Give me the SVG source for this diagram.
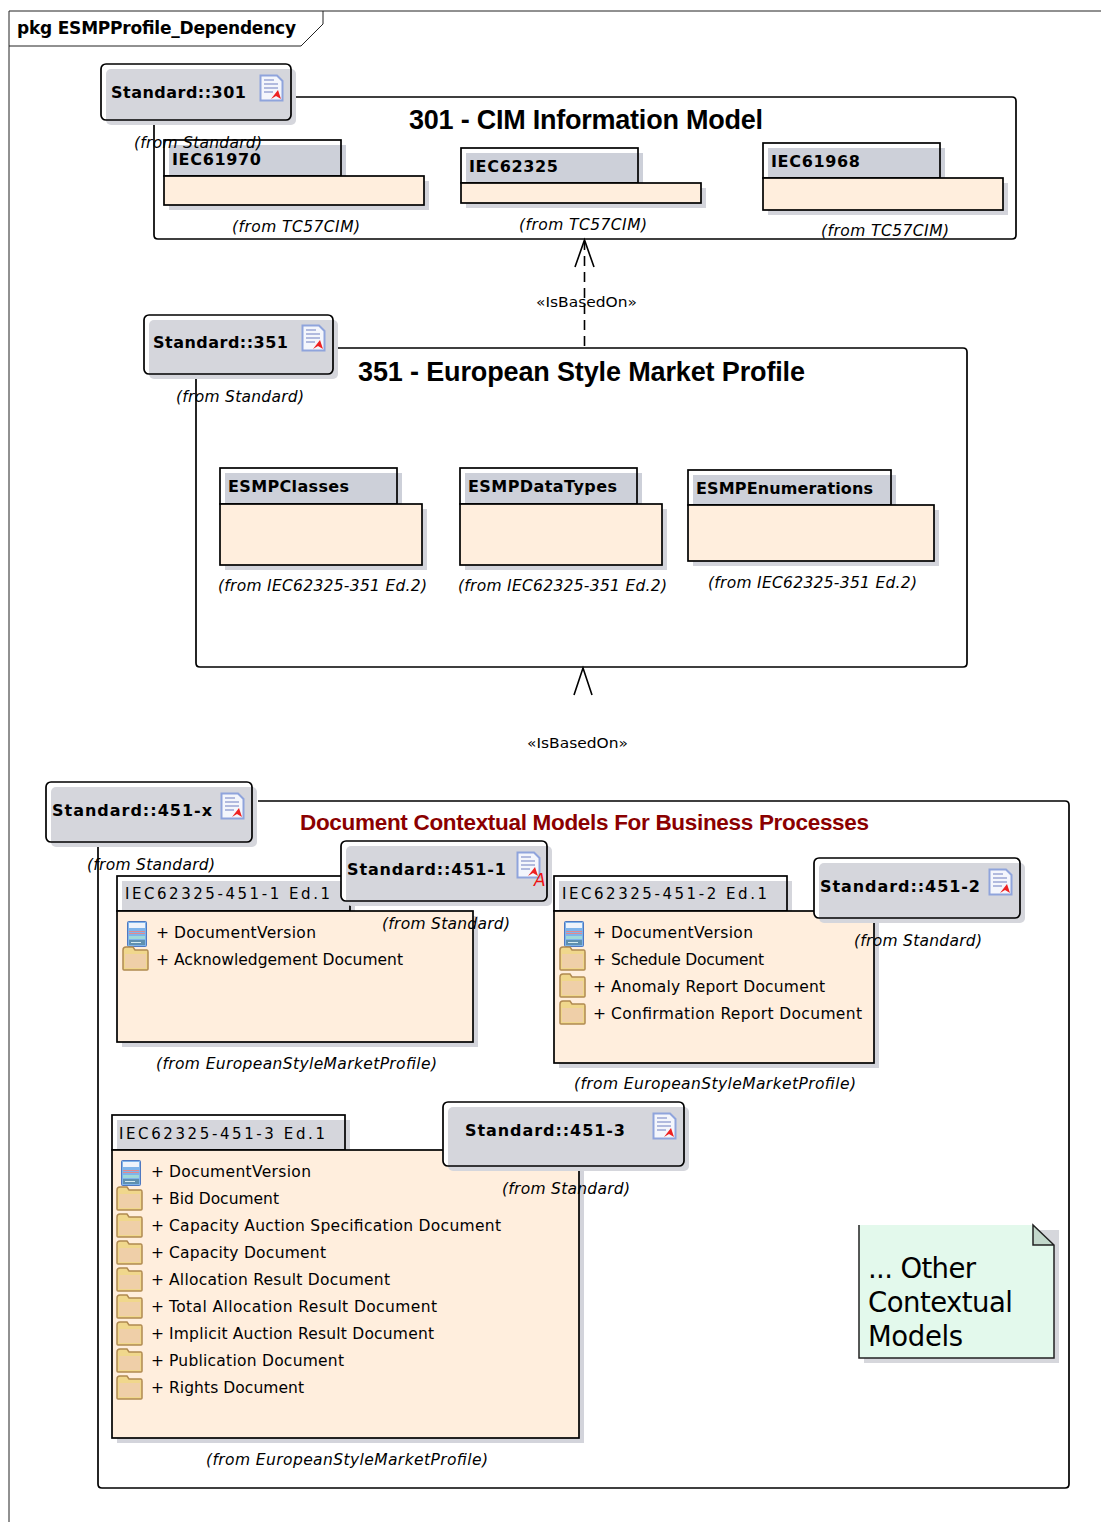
<svg xmlns="http://www.w3.org/2000/svg" xmlns:xlink="http://www.w3.org/1999/xlink" width="1101" height="1522" viewBox="0 0 1101 1522">
<style>
text{font-family:"DejaVu Sans","Liberation Sans",sans-serif;fill:#000}
.ln{fill:none;stroke:#000;stroke-width:1.600}
.cont{fill:none;stroke:#000;stroke-width:1.700}
.tabg{fill:#cdd0d9}
.shadow{fill:#d3d4db}
.body{fill:#ffeedd;stroke:#000;stroke-width:1.700}
.tab{fill:none;stroke:#000;stroke-width:1.700}
.st{fill:#d5d6dc}
.nb{fill:#fff;stroke:none}
.nbr{fill:none;stroke:#000;stroke-width:1.700}
.name{font-size:16px;font-weight:bold}
.pk{font-size:16px;font-weight:bold}
.pn{font-size:15px}
.from{font-size:15.500px;font-style:italic}
.item{font-size:15.500px}
.title{font-family:"Liberation Sans",Arial,sans-serif;font-weight:bold;font-size:27px}
.lab{font-size:14.500px}
.note{font-size:27.500px}
</style>
<defs>
<symbol id="doc" viewBox="0 0 25 28" overflow="visible">
<path d="M1.500 1.500H18L23.500 7V26.500H1.500Z" fill="#f4f6fc" stroke="#8fa4dc" stroke-width="2"/>
<path d="M5 6H15M5 10H19M5 14H19M5 18H14" stroke="#9aa6d4" stroke-width="1.500"/>
<path d="M12 25L19 16L22 25L17 22Z" fill="#ee2222"/>
</symbol>
<symbol id="cls" viewBox="0 0 20 26" overflow="visible">
<rect x="0.500" y="0.500" width="19" height="25" rx="1" fill="#7fb4ea" stroke="#4f78c0"/>
<rect x="2" y="2" width="16" height="5" fill="#eef3fb"/>
<path d="M2 10.500H18M2 12.500H18" stroke="#e08a90" stroke-width="1"/>
<rect x="2" y="15" width="16" height="3" fill="#9fd8d8"/>
<rect x="2" y="19" width="16" height="5" fill="#5f90b0"/>
<path d="M4 21.500H14" stroke="#d5ecf0"/>
</symbol>
<symbol id="fld" viewBox="0 0 27 25" overflow="visible">
<path d="M1 4Q1 1 4 1H11L13 4H25Q26 4 26 6V23Q26 24 25 24H2Q1 24 1 23Z" fill="#f0d78c" stroke="#b08a50" stroke-width="1.500"/>
<rect x="3" y="8" width="21" height="14" fill="#efcfa8"/>
</symbol>
</defs>
<rect width="1101" height="1522" fill="#fff"/>
<g id="frame"><path class="ln" style="stroke:#222;stroke-width:1" d="M1101 11H9V1522M9 46H301L323 24V11"/>
<text x="17" y="34" style="font-size:17px;font-weight:bold" textLength="279">pkg ESMPProfile_Dependency</text></g>

<g id="connectors">
<path class="ln" stroke-dasharray="10 6" d="M584.500 346V242"/>
<path class="ln" d="M575 267L584.500 240L594 267"/>
<path class="ln" d="M574 695L583 668L592 695"/>
</g>
<text class="lab" x="536" y="307" textLength="101" lengthAdjust="spacingAndGlyphs">«IsBasedOn»</text>
<text class="lab" x="527" y="748" textLength="101" lengthAdjust="spacingAndGlyphs">«IsBasedOn»</text>

<g id="c301"><path class="cont" d="M154 125V235Q154 239 158 239H1012Q1016 239 1016 235V101Q1016 97 1012 97H296"/>
<text class="title" x="409" y="129" textLength="354">301 - CIM Information Model</text></g>

<g id="IEC61970"><rect class="tabg" x="169" y="145" width="177" height="31"/><rect class="shadow" x="169" y="181" width="260" height="29"/><rect class="tab" x="164" y="140" width="177" height="36"/><rect class="body" x="164" y="176" width="260" height="29"/><text class="pk" x="172" y="165" textLength="89">IEC61970</text><text class="from" x="232" y="232" textLength="128">(from TC57CIM)</text></g>
<g id="IEC62325"><rect class="tabg" x="466" y="153" width="177" height="30"/><rect class="shadow" x="466" y="188" width="240" height="20"/><rect class="tab" x="461" y="148" width="177" height="35"/><rect class="body" x="461" y="183" width="240" height="20"/><text class="pk" x="469" y="172" textLength="89">IEC62325</text><text class="from" x="519" y="230" textLength="128">(from TC57CIM)</text></g>
<g id="IEC61968"><rect class="tabg" x="768" y="148" width="177" height="30"/><rect class="shadow" x="768" y="183" width="240" height="32"/><rect class="tab" x="763" y="143" width="177" height="35"/><rect class="body" x="763" y="178" width="240" height="32"/><text class="pk" x="771" y="167" textLength="89">IEC61968</text><text class="from" x="821" y="236" textLength="128">(from TC57CIM)</text></g>

<g id="Standard301"><rect class="st" x="106" y="69" width="190" height="56" rx="5"/><rect class="nbr" x="101" y="64" width="190" height="56" rx="5"/><text class="name" x="111" y="98" textLength="135">Standard::301</text><use xlink:href="#doc" href="#doc" x="259" y="74" width="25" height="28"/><text class="from" x="134" y="148" textLength="128">(from Standard)</text></g>

<g id="c351"><path class="cont" d="M196 379V663Q196 667 200 667H963Q967 667 967 663V352Q967 348 963 348H338"/>
<text class="title" x="358" y="381" textLength="447">351 - European Style Market Profile</text></g>

<g id="ESMPClasses"><rect class="tabg" x="225" y="473" width="177" height="31"/><rect class="shadow" x="225" y="509" width="202" height="61"/><rect class="tab" x="220" y="468" width="177" height="36"/><rect class="body" x="220" y="504" width="202" height="61"/><text class="pk" x="228" y="492" textLength="121">ESMPClasses</text><text class="from" x="218" y="591" textLength="209">(from IEC62325-351 Ed.2)</text></g>
<g id="ESMPDataTypes"><rect class="tabg" x="465" y="473" width="177" height="31"/><rect class="shadow" x="465" y="509" width="202" height="61"/><rect class="tab" x="460" y="468" width="177" height="36"/><rect class="body" x="460" y="504" width="202" height="61"/><text class="pk" x="468" y="492" textLength="149">ESMPDataTypes</text><text class="from" x="458" y="591" textLength="209">(from IEC62325-351 Ed.2)</text></g>
<g id="ESMPEnumerations"><rect class="tabg" x="693" y="475" width="203" height="30"/><rect class="shadow" x="693" y="510" width="246" height="56"/><rect class="tab" x="688" y="470" width="203" height="35"/><rect class="body" x="688" y="505" width="246" height="56"/><text class="pk" x="696" y="494" textLength="177">ESMPEnumerations</text><text class="from" x="708" y="588" textLength="209">(from IEC62325-351 Ed.2)</text></g>

<g id="Standard351"><rect class="st" x="149" y="320" width="189" height="59" rx="5"/><rect class="nbr" x="144" y="315" width="189" height="59" rx="5"/><text class="name" x="153" y="348" textLength="135">Standard::351</text><use xlink:href="#doc" href="#doc" x="301" y="324" width="25" height="28"/><text class="from" x="176" y="402" textLength="128">(from Standard)</text></g>

<g id="c451"><path class="cont" d="M98 847V1484Q98 1488 102 1488H1065Q1069 1488 1069 1484V805Q1069 801 1065 801H258"/>
<text class="title" style="fill:#8b0000;font-size:22.500px" x="300" y="830" textLength="569">Document Contextual Models For Business Processes</text></g>

<g id="Standard451x"><rect class="st" x="51" y="787" width="206" height="60" rx="5"/><rect class="nbr" x="46" y="782" width="206" height="60" rx="5"/><text class="name" x="52" y="816" textLength="160">Standard::451-x</text><use xlink:href="#doc" href="#doc" x="220" y="792" width="25" height="28"/><text class="from" x="87" y="870" textLength="128">(from Standard)</text></g>

<g id="IEC62325-451-1"><rect class="st" x="122" y="881" width="233" height="30"/><rect class="shadow" x="122" y="916" width="356" height="131"/><rect class="tab" x="117" y="876" width="233" height="35"/><rect class="body" x="117" y="911" width="356" height="131"/><text class="pn" x="125" y="899" textLength="205">IEC62325-451-1 Ed.1</text>
<use xlink:href="#cls" href="#cls" x="127" y="921" width="20" height="26"/><use xlink:href="#fld" href="#fld" x="122" y="946" width="27" height="25"/>
<text class="item" x="156" y="938">+</text><text class="item" x="174" y="938" textLength="142">DocumentVersion</text>
<text class="item" x="156" y="965">+</text><text class="item" x="174" y="965" textLength="229">Acknowledgement Document</text>
<text class="from" x="156" y="1069" textLength="281">(from EuropeanStyleMarketProfile)</text></g>

<g id="Standard451-1"><rect class="nb" x="341" y="841" width="206" height="60" rx="5"/><rect class="st" x="346" y="846" width="206" height="60" rx="5"/><rect class="nbr" x="341" y="841" width="206" height="60" rx="5"/><text class="name" x="347" y="875" textLength="159">Standard::451-1</text><use xlink:href="#doc" href="#doc" x="516" y="851" width="25" height="28"/><text x="534" y="886" style="font-size:17px;font-style:italic;fill:#ee1111">A</text><text class="from" x="382" y="929" textLength="128">(from Standard)</text></g>

<g id="IEC62325-451-2"><rect class="st" x="559" y="881" width="233" height="30"/><rect class="shadow" x="559" y="916" width="320" height="152"/><rect class="tab" x="554" y="876" width="233" height="35"/><rect class="body" x="554" y="911" width="320" height="152"/><text class="pn" x="562" y="899" textLength="205">IEC62325-451-2 Ed.1</text>
<use xlink:href="#cls" href="#cls" x="564" y="921" width="20" height="26"/><use xlink:href="#fld" href="#fld" x="559" y="946" width="27" height="25"/><use xlink:href="#fld" href="#fld" x="559" y="973" width="27" height="25"/><use xlink:href="#fld" href="#fld" x="559" y="1000" width="27" height="25"/>
<text class="item" x="593" y="938">+</text><text class="item" x="611" y="938" textLength="142">DocumentVersion</text>
<text class="item" x="593" y="965">+</text><text class="item" x="611" y="965" textLength="153">Schedule Document</text>
<text class="item" x="593" y="992">+</text><text class="item" x="611" y="992" textLength="214">Anomaly Report Document</text>
<text class="item" x="593" y="1019">+</text><text class="item" x="611" y="1019" textLength="251">Confirmation Report Document</text>
<text class="from" x="574" y="1089" textLength="282">(from EuropeanStyleMarketProfile)</text></g>

<g id="Standard451-2"><rect class="nb" x="814" y="858" width="206" height="60" rx="5"/><rect class="st" x="819" y="863" width="206" height="60" rx="5"/><rect class="nbr" x="814" y="858" width="206" height="60" rx="5"/><text class="name" x="820" y="892" textLength="160">Standard::451-2</text><use xlink:href="#doc" href="#doc" x="988" y="868" width="25" height="28"/><text class="from" x="854" y="946" textLength="128">(from Standard)</text></g>

<g id="IEC62325-451-3"><rect class="st" x="117" y="1120" width="233" height="30"/><rect class="shadow" x="117" y="1155" width="467" height="288"/><rect class="tab" x="112" y="1115" width="233" height="35"/><rect class="body" x="112" y="1150" width="467" height="288"/><text class="pn" x="119" y="1139" textLength="206">IEC62325-451-3 Ed.1</text>
<use xlink:href="#cls" href="#cls" x="121" y="1160" width="20" height="26"/>
<use xlink:href="#fld" href="#fld" x="116" y="1186" width="27" height="25"/><use xlink:href="#fld" href="#fld" x="116" y="1213" width="27" height="25"/><use xlink:href="#fld" href="#fld" x="116" y="1240" width="27" height="25"/><use xlink:href="#fld" href="#fld" x="116" y="1267" width="27" height="25"/><use xlink:href="#fld" href="#fld" x="116" y="1294" width="27" height="25"/><use xlink:href="#fld" href="#fld" x="116" y="1321" width="27" height="25"/><use xlink:href="#fld" href="#fld" x="116" y="1348" width="27" height="25"/><use xlink:href="#fld" href="#fld" x="116" y="1375" width="27" height="25"/>
<text class="item" x="151" y="1177">+</text><text class="item" x="169" y="1177" textLength="142">DocumentVersion</text>
<text class="item" x="151" y="1204">+</text><text class="item" x="169" y="1204" textLength="110">Bid Document</text>
<text class="item" x="151" y="1231">+</text><text class="item" x="169" y="1231" textLength="332">Capacity Auction Specification Document</text>
<text class="item" x="151" y="1258">+</text><text class="item" x="169" y="1258" textLength="157">Capacity Document</text>
<text class="item" x="151" y="1285">+</text><text class="item" x="169" y="1285" textLength="221">Allocation Result Document</text>
<text class="item" x="151" y="1312">+</text><text class="item" x="169" y="1312" textLength="268">Total Allocation Result Document</text>
<text class="item" x="151" y="1339">+</text><text class="item" x="169" y="1339" textLength="265">Implicit Auction Result Document</text>
<text class="item" x="151" y="1366">+</text><text class="item" x="169" y="1366" textLength="175">Publication Document</text>
<text class="item" x="151" y="1393">+</text><text class="item" x="169" y="1393" textLength="135">Rights Document</text>
<text class="from" x="206" y="1465" textLength="282">(from EuropeanStyleMarketProfile)</text></g>

<g id="Standard451-3"><rect class="nb" x="443" y="1102" width="241" height="64" rx="5"/><rect class="st" x="448" y="1107" width="241" height="64" rx="5"/><rect class="nbr" x="443" y="1102" width="241" height="64" rx="5"/><text class="name" x="465" y="1136" textLength="160">Standard::451-3</text><use xlink:href="#doc" href="#doc" x="652" y="1112" width="25" height="28"/><text class="from" x="502" y="1194" textLength="128">(from Standard)</text></g>

<g id="note"><path d="M864 1230H1059V1363H864Z" fill="#d6d7dc"/><path d="M859 1225H1033L1054 1245V1358H859Z" fill="#e3f9ec"/><path d="M1033 1225L1054 1245H1033Z" fill="#c2d8cb"/><path d="M859 1225V1358H1054V1245L1033 1225V1245H1054" fill="none" stroke="#222" stroke-width="1.500"/>
<text class="note" x="868" y="1278" textLength="108">... Other</text><text class="note" x="868" y="1312" textLength="145">Contextual</text><text class="note" x="868" y="1346" textLength="95">Models</text></g>
</svg>
